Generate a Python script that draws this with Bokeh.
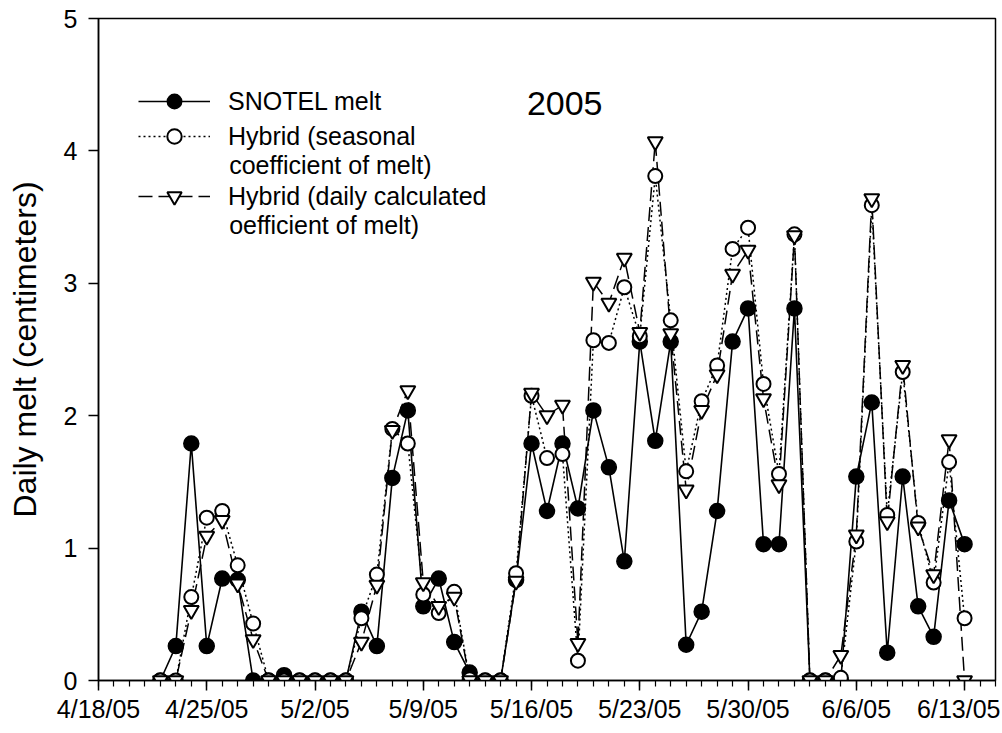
import pandas as pd
from bokeh.plotting import figure
from bokeh.models import Range1d, FixedTicker, Legend, LegendItem, Label
from bokeh.embed import file_html
from bokeh.resources import INLINE

# ---- data -------------------------------------------------------------
axis_start = "2005-04-18"
axis_end = "2005-06-15"
first_day = "2005-04-22"
last_day = "2005-06-13"

# SNOTEL observed daily melt (cm), 4/22/05 .. 6/13/05
snotel = [0.00, 0.26, 1.79, 0.26, 0.77, 0.76, 0.00, 0.00, 0.04, 0.00,
          0.00, 0.00, 0.00, 0.52, 0.26, 1.53, 2.04, 0.56, 0.77, 0.29,
          0.06, 0.00, 0.00, 0.76, 1.79, 1.28, 1.79, 1.30, 2.04, 1.61,
          0.90, 2.56, 1.81, 2.56, 0.27, 0.52, 1.28, 2.56, 2.81, 1.03,
          1.03, 2.81, 0.00, 0.00, 0.00, 1.54, 2.10, 0.21, 1.54, 0.56,
          0.33, 1.36, 1.03]
# Hybrid (seasonal coefficient of melt)
seasonal = [0.00, 0.00, 0.63, 1.23, 1.28, 0.87, 0.43, 0.00, 0.00, 0.00,
            0.00, 0.00, 0.00, 0.47, 0.80, 1.90, 1.79, 0.65, 0.51, 0.67,
            0.01, 0.00, 0.00, 0.81, 2.15, 1.68, 1.71, 0.15, 2.57, 2.55,
            2.97, 2.60, 3.81, 2.72, 1.58, 2.11, 2.38, 3.26, 3.42, 2.24,
            1.56, 3.37, 0.00, 0.00, 0.02, 1.05, 3.59, 1.25, 2.33, 1.19,
            0.74, 1.65, 0.47]
# Hybrid (daily calculated coefficient of melt)
daily = [0.00, 0.00, 0.53, 1.09, 1.21, 0.73, 0.31, 0.00, 0.00, 0.00,
         0.00, 0.00, 0.00, 0.29, 0.72, 1.89, 2.19, 0.74, 0.56, 0.63,
         0.00, 0.00, 0.00, 0.75, 2.17, 2.00, 2.08, 0.28, 3.01, 2.85,
         3.19, 2.63, 4.07, 2.62, 1.44, 2.04, 2.31, 3.07, 3.25, 2.13,
         1.48, 3.36, 0.00, 0.00, 0.19, 1.10, 3.64, 1.20, 2.38, 1.16,
         0.80, 1.82, 0.00]

tick_labels = ["4/18/05", "4/25/05", "5/2/05", "5/9/05", "5/16/05",
               "5/23/05", "5/30/05", "6/6/05", "6/13/05"]
y_ticks = [0, 1, 2, 3, 4, 5]

legend_first_lines = ["SNOTEL melt", "Hybrid (seasonal", "Hybrid (daily calculated"]
legend_second_lines = ["coefficient of melt)", "oefficient of melt)"]
year_label = "2005"

# ---- derived positions -----------------------------------------------
t0 = pd.Timestamp(axis_start)
dates = pd.date_range(first_day, last_day, freq="D")
x = [int(v) for v in (dates - t0).days]
span = int((pd.Timestamp(axis_end) - t0).days)
major = [float((pd.to_datetime(l, format="%m/%d/%y") - t0).days) for l in tick_labels]
minor = [float(v) for v in range(0, span + 1)]

FONT = "Liberation Sans"

p = figure(width=1000, height=731, x_range=Range1d(0, span), y_range=Range1d(0, 5),
           output_backend="svg", toolbar_location=None,
           min_border_left=98, min_border_right=5, min_border_top=18,
           min_border_bottom=51)
p.xgrid.visible = False
p.ygrid.visible = False
p.outline_line_color = "black"
p.outline_line_width = 1.5
p.background_fill_color = "white"
p.border_fill_color = "white"

# axes
p.xaxis.ticker = FixedTicker(ticks=major, minor_ticks=minor)
p.xaxis.major_label_overrides = {m: l for m, l in zip(major, tick_labels)}
p.yaxis.ticker = FixedTicker(ticks=y_ticks, minor_ticks=[])
for ax in (p.xaxis, p.yaxis):
    ax.axis_line_color = "black"
    ax.axis_line_width = 1.5
    ax.major_tick_line_color = "black"
    ax.major_tick_line_width = 1.5
    ax.minor_tick_line_color = "black"
    ax.minor_tick_line_width = 1.2
    ax.major_tick_in = 0
    ax.minor_tick_in = 0
    ax.major_label_text_font = FONT
    ax.major_label_text_color = "black"
p.xaxis.major_tick_out = 10
p.xaxis.minor_tick_out = 6
p.xaxis.major_label_standoff = 4
p.xaxis.major_label_text_font_size = "25px"
p.yaxis.major_tick_out = 10
p.yaxis.major_label_standoff = 11
p.yaxis.major_label_text_font_size = "25px"
p.yaxis.axis_label = "Daily melt (centimeters)"
p.yaxis.axis_label_text_font = FONT
p.yaxis.axis_label_text_font_size = "32px"
p.yaxis.axis_label_text_font_style = "normal"
p.yaxis.axis_label_text_color = "black"
p.yaxis.axis_label_standoff = 18

# lines
l_sn = p.line(x, snotel, line_color="black", line_width=1.6)
l_se = p.line(x, seasonal, line_color="black", line_width=1.5, line_dash="2 3")
l_da = p.line(x, daily, line_color="black", line_width=1.5, line_dash="14 6")

# markers (filled circles beneath, open markers on top)
m_sn = p.scatter(x, snotel, marker="circle", size=15, fill_color="black",
                 line_color="black", line_width=1.5)
m_se = p.scatter(x, seasonal, marker="circle", size=14, fill_color="white",
                 line_color="black", line_width=2)
m_da = p.scatter(x, daily, marker="inverted_triangle", size=15, fill_color="white",
                 line_color="black", line_width=2)

# legend: one single-line legend per entry, glyph aligned with first line
entry_renderers = [[l_sn, m_sn], [l_se, m_se], [l_da, m_da]]
entry_bottoms = [561, 526, 466]   # px above the frame bottom
for label, rends, yb in zip(legend_first_lines, entry_renderers, entry_bottoms):
    lg = Legend(items=[LegendItem(label=label, renderers=rends)], location=(40, yb))
    lg.border_line_color = None
    lg.background_fill_alpha = 0
    lg.padding = 0
    lg.margin = 0
    lg.glyph_width = 72
    lg.glyph_height = 36
    lg.label_standoff = 18
    lg.label_text_font = FONT
    lg.label_text_font_size = "25px"
    lg.label_text_color = "black"
    lg.label_height = 36
    p.add_layout(lg)

# continuation lines of the two-line legend labels
for text, yv in zip(legend_second_lines, [3.89, 3.44]):
    p.add_layout(Label(x=8.45, y=yv, text=text, text_font=FONT,
                       text_font_size="25px", text_baseline="middle",
                       text_color="black"))

p.add_layout(Label(x=27.7, y=4.36, text=year_label, text_font=FONT,
                   text_font_size="34px", text_baseline="middle",
                   text_color="black"))

open("out.html", "w").write(file_html(p, INLINE))
